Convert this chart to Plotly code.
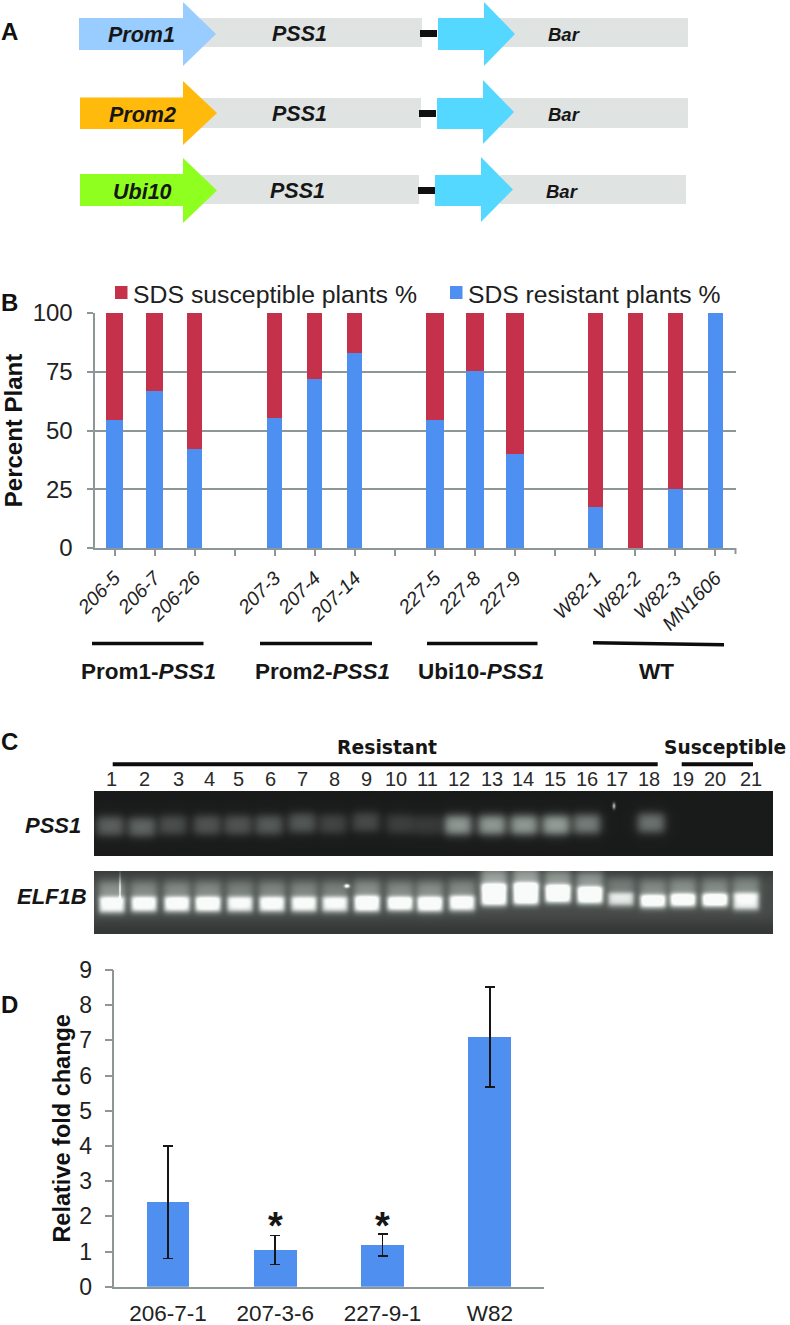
import numpy as np
import plotly.graph_objects as go

W, H = 790, 1325
FONT = "Liberation Sans"
INK = "#161616"
AXIS = "#8d9797"

# ---- Panel B data ----
plant_lines = ["206-5", "206-7", "206-26", "\u00a0", "207-3", "207-4", "207-14", "\u00a0\u00a0",
               "227-5", "227-8", "227-9", "\u00a0\u00a0\u00a0", "W82-1", "W82-2", "W82-3", "MN1606"]
resistant_pct = [54.5, 67, 42, None, 55.5, 72, 83, None, 54.5, 75.5, 40, None, 17.5, 0, 25, 100]
susceptible_pct = [45.5, 33, 58, None, 44.5, 28, 17, None, 45.5, 24.5, 60, None, 82.5, 100, 75, 0]
bar_widths_b = [.44, .44, .37, .4, .37, .37, .37, .4, .44, .44, .44, .4, .37, .37, .37, .37]

# ---- Panel D data ----
qpcr_lines = ["206-7-1", "207-3-6", "227-9-1", "W82"]
fold_change = [2.4, 1.05, 1.19, 7.1]
err_plus = [1.6, 0.4, 0.31, 1.42]
err_minus = [1.6, 0.42, 0.31, 1.42]
significant = ["207-3-6", "227-9-1"]
star_levels = [1.73, 1.73]

# ---- Panel C data (band brightness by lane) ----
lane_numbers = list(range(1, 22))
lane_label_x = [111, 144, 178, 209, 238, 270, 302, 334, 366, 396, 427, 459, 492, 523, 555, 587, 617, 649, 683, 715, 751]
pss1_lane_x = [110, 142, 173, 207, 238, 269, 302, 333, 366, 400, 427, 458, 492, 524, 556, 587, 620, 651, 683, 715, 747]
pss1_level = [.27, .29, .2, .22, .22, .25, .24, .16, .18, .14, .12, .5, .5, .5, .52, .38, 0, .34, 0, 0, 0]
pss1_center = [826, 827, 825, 825, 825, 825, 823, 824, 822, 824, 825, 825, 825, 825, 825, 824, 825, 823, 825, 825, 825]
elf_lane_x = [112, 144, 177, 208, 240, 272, 304, 335, 367, 400, 430, 462, 494, 526, 558, 590, 621, 653, 683, 715, 746]
elf_level = [.74, .78, .78, .82, .72, .76, .74, .72, .84, .84, .84, .8, .9, .92, .92, .9, .62, .86, .88, .92, .7]
elf_top = [897, 897, 897, 897, 897, 897, 897, 897, 896, 897, 897, 896, 884, 883, 885, 887, 893, 895, 894, 894, 893]
elf_bottom = [912, 911, 911, 911, 911, 911, 911, 911, 911, 910, 911, 910, 905, 904, 902, 903, 905, 907, 906, 906, 909]
elf_halo = [.3, .26, .26, .26, .22, .24, .24, .22, .28, .26, .28, .26, .4, .4, .34, .34, .2, .26, .28, .26, .26]

# ---- Panel A data ----
construct_names = ["Prom1", "Prom2", "Ubi10"]
construct_colors = ["#99ccff", "#ffba0b", "#8fff1f"]


def px(x, y):
    return x / W, 1 - y / H


def paper_path(points):
    parts = []
    for i, (x, y) in enumerate(points):
        fx, fy = px(x, y)
        parts.append(("M" if i == 0 else "L") + f"{fx:.5f},{fy:.5f}")
    return " ".join(parts) + " Z"


shapes, annots = [], []


def rect(x0, y0, x1, y1, color):
    a, b = px(x0, y0)
    c, d = px(x1, y1)
    shapes.append(dict(type="rect", xref="paper", yref="paper", x0=a, y0=b, x1=c, y1=d,
                       fillcolor=color, line_width=0, layer="above"))


def arrow(x0, xh, xt, top, bot, htop, hbot, color):
    mid = (htop + hbot) / 2
    shapes.append(dict(type="path", xref="paper", yref="paper", layer="above", fillcolor=color, line_width=0,
                       path=paper_path([(x0, top), (xh, top), (xh, htop), (xt, mid), (xh, hbot), (xh, bot), (x0, bot)])))


def line(x0, y0, x1, y1, width, color="#0c0c0c"):
    a, b = px(x0, y0)
    c, d = px(x1, y1)
    shapes.append(dict(type="line", xref="paper", yref="paper", x0=a, y0=b, x1=c, y1=d,
                       line=dict(color=color, width=width), layer="above"))


def text(x, y, s, size, family=FONT, color=INK, anchor="center", angle=0):
    a, b = px(x, y)
    annots.append(dict(xref="paper", yref="paper", x=a, y=b, text=s, showarrow=False, xanchor=anchor,
                       yanchor="middle", font=dict(family=family, size=size, color=color), textangle=angle,
                       borderpad=0, borderwidth=0))


rows = [
    dict(px0=79, pxh=183, pxt=216, st=18, sb=50, ht=2, hb=66, gr=422, gt=18, gb=47, lx0=420, lx1=437, ly0=30, ly1=37,
         bx0=438, bxh=484, bxt=515, bht=2, bhb=66, bst=18, bsb=50, end=688, tx=141, ty=35, px_t=299, bar_t=564),
    dict(px0=80, pxh=183, pxt=217, st=97.5, sb=129, ht=81, hb=145, gr=421, gt=98, gb=128, lx0=419, lx1=436, ly0=110, ly1=117,
         bx0=437, bxh=483, bxt=514, bht=80, bhb=144, bst=98, bsb=129, end=688, tx=142, ty=115, px_t=299, bar_t=564),
    dict(px0=80, pxh=183, pxt=217, st=174, sb=206, ht=158, hb=223, gr=419, gt=175, gb=204, lx0=418, lx1=435, ly0=187, ly1=194,
         bx0=435, bxh=481, bxt=513, bht=157, bhb=222, bst=175, bsb=206, end=686, tx=142, ty=192, px_t=297, bar_t=562),
]
for r, name, col in zip(rows, construct_names, construct_colors):
    rect(200, r["gt"], r["gr"], r["gb"], "#dfe3e2")
    rect(500, r["gt"], r["end"], r["gb"], "#dfe3e2")
    rect(r["lx0"], r["ly0"], r["lx1"], r["ly1"], "#101010")
    arrow(r["px0"], r["pxh"], r["pxt"], r["st"], r["sb"], r["ht"], r["hb"], col)
    arrow(r["bx0"], r["bxh"], r["bxt"], r["bst"], r["bsb"], r["bht"], r["bhb"], "#55d8ff")
    text(r["tx"], r["ty"], f"<b><i>{name}</i></b>", 21.5)
    text(r["px_t"], r["ty"] - 1, "<b><i>PSS1</i></b>", 21.5)
    text(r["bar_t"], r["ty"] - 0.5, "<b><i>Bar</i></b>", 18.5)

for letter, y in zip("ABCD", [32, 302, 741, 1004]):
    text(1, y, f"<b>{letter}</b>", 24, anchor="left", color="#111111")

rect(115, 286, 127.5, 299, "#c5304a")
rect(450, 286, 462.5, 299, "#4e8ff2")
text(133, 295, "SDS susceptible plants %", 24.8, anchor="left", color="#202020")
text(468, 295, "SDS resistant plants %", 24.7, anchor="left", color="#202020")
line(735.5, 548, 735.5, 554, 2, AXIS)
line(92, 643.5, 203.5, 643.5, 3.5)
line(260, 643.5, 372, 643.5, 3.5)
line(427, 643.5, 537.5, 643.5, 3.5)
line(593, 642.7, 724, 644.7, 3.5)
text(148, 671, "<b>Prom1-<i>PSS1</i></b>", 22.5)
text(322, 671, "<b>Prom2-<i>PSS1</i></b>", 22.5)
text(481, 671, "<b>Ubi10-<i>PSS1</i></b>", 22.5)
text(656.5, 671, "<b>WT</b>", 22.5)

line(112.7, 764.3, 657.7, 764.3, 4)
line(681.7, 764.3, 753, 764.3, 4)
text(387, 747, "<b>Resistant</b>", 18.8, family="DejaVu Sans")
text(725, 747, "<b>Susceptible</b>", 18.6, family="DejaVu Sans")
for n, x in zip(lane_numbers, lane_label_x):
    text(x, 779, str(n), 20, color="#2a2a2a")
text(53, 826, "<b><i>PSS1</i></b>", 22)
text(52, 896, "<b><i>ELF1B</i></b>", 22)

for cat, lvl in zip(significant, star_levels):
    annots.append(dict(xref="x2", yref="y2", x=cat, y=lvl, text="<b>*</b>", showarrow=False, yanchor="middle",
                       font=dict(family=FONT, size=38, color=INK)))


def soft(v, lo, hi, edge):
    return 1 / (1 + np.exp((lo - v) / edge)) * 1 / (1 + np.exp((v - hi) / edge))


def blob(X, Y, cx, cy, sx, sy, amp):
    return amp * np.exp(-((X - cx) / sx) ** 2 - ((Y - cy) / sy) ** 2)


gx = np.arange(94.5, 773, 1.0)
gy1 = np.arange(791.5, 856, 1.0)
gy2 = np.arange(871.5, 934, 1.0)
X1, Y1 = np.meshgrid(gx, gy1)
X2, Y2 = np.meshgrid(gx, gy2)

gel1 = np.full(X1.shape, 0.1)
for cx, cy, lv in zip(pss1_lane_x, pss1_center, pss1_level):
    gel1 += lv * soft(X1, cx - 13, cx + 13, 2.6) * soft(Y1, cy - 9, cy + 9, 2.6)
gel1 += blob(X1, Y1, 614, 806, 1.5, 3, .6)
gel1 = np.clip(gel1, 0, 1).round(3)

gel2 = np.full(X2.shape, 0.2)
gel2 += 0.08 * soft(Y2, 876, 922, 4)
for cx, lv, t, b, hl in zip(elf_lane_x, elf_level, elf_top, elf_bottom, elf_halo):
    gel2 += hl * soft(X2, cx - 13, cx + 13, 2.2) * soft(Y2, t - 15, t + 2, 3)
    gel2 += 0.1 * soft(X2, cx - 14, cx + 14, 2) * soft(Y2, b, b + 4, 1.5)
    gel2 += lv * soft(X2, cx - 12.5, cx + 12.5, 1.4) * soft(Y2, t, b, 1.4)
gel2 += blob(X2, Y2, 120, 888, 1, 13, .45)
gel2 += blob(X2, Y2, 347, 886, 2.5, 1.8, .8)
gel2 = np.clip(gel2, 0, 1).round(3)

GEL_SCALE = [[0, "#000000"], [0.5, "#7f8783"], [1, "#f8fbf9"]]

fig = go.Figure()
fig.add_trace(go.Bar(x=plant_lines, y=resistant_pct, name="SDS resistant plants %", marker_color="#4e8ff2",
                     marker_line_width=0, width=bar_widths_b, xaxis="x", yaxis="y", showlegend=False))
fig.add_trace(go.Bar(x=plant_lines, y=susceptible_pct, name="SDS susceptible plants %", marker_color="#c5304a",
                     marker_line_width=0, width=bar_widths_b, xaxis="x", yaxis="y", showlegend=False))
fig.add_trace(go.Bar(x=qpcr_lines, y=fold_change, marker_color="#4f8ff0", marker_line_width=0, width=0.4,
                     error_y=dict(type="data", symmetric=False, array=err_plus, arrayminus=err_minus,
                                  thickness=1.6, width=5, color="#161616"),
                     xaxis="x2", yaxis="y2", showlegend=False))
fig.add_trace(go.Heatmap(x=gx, y=gy1, z=gel1, colorscale=GEL_SCALE, zmin=0, zmax=1, showscale=False,
                         hoverinfo="skip", xaxis="x3", yaxis="y3"))
fig.add_trace(go.Heatmap(x=gx, y=gy2, z=gel2, colorscale=GEL_SCALE, zmin=0, zmax=1, showscale=False,
                         hoverinfo="skip", xaxis="x4", yaxis="y4"))


def hidden(domain, rng, anchor):
    return dict(domain=domain, range=rng, anchor=anchor, visible=False, fixedrange=True, automargin=False)


fig.update_layout(
    width=W, height=H, margin=dict(l=0, r=0, t=0, b=0, pad=0), autosize=False,
    paper_bgcolor="white", plot_bgcolor="rgba(0,0,0,0)", barmode="stack",
    font=dict(family=FONT, color=INK), showlegend=False,
    shapes=shapes, annotations=annots,
    xaxis=dict(domain=[94.5 / W, 735.5 / W], anchor="y", type="category", categoryorder="array", automargin=False,
               categoryarray=plant_lines, tickmode="array", tickvals=plant_lines, ticktext=plant_lines,
               showline=True, linecolor=AXIS, linewidth=2, ticks="outside", ticklen=6, tickwidth=1.5,
               tickcolor=AXIS, tickangle=-45, ticklabelstandoff=3, showgrid=False,
               tickfont=dict(family=FONT, size=19.5, style="italic", color="#222222")),
    yaxis=dict(domain=[1 - 548 / H, 1 - 313 / H], anchor="x", range=[0, 100], tick0=0, dtick=25, automargin=False,
               showline=True, linecolor=AXIS, linewidth=2, ticks="outside", ticklen=6, tickwidth=2,
               tickcolor=AXIS, showgrid=True, gridcolor=AXIS, gridwidth=2, zeroline=False,
               ticklabelstandoff=9,
               tickfont=dict(family=FONT, size=24, color="#222222"),
               title=dict(text="<b>Percent Plant</b>", standoff=30, font=dict(family=FONT, size=24, color="#111111"))),
    xaxis2=dict(domain=[114.3 / W, 543.6 / W], anchor="y2", type="category", range=[-0.5, 3.5], automargin=False,
                showline=True, linecolor=AXIS, linewidth=1.5, ticks="", showgrid=False, ticklabelstandoff=6,
                tickfont=dict(family=FONT, size=22.5, color="#222222")),
    yaxis2=dict(domain=[1 - 1286.7 / H, 1 - 970 / H], anchor="x2", range=[0, 9], tick0=0, dtick=1, automargin=False,
                showline=True, linecolor=AXIS, linewidth=1.5, ticks="outside", ticklen=8, tickwidth=1.5,
                tickcolor=AXIS, showgrid=False, zeroline=False, ticklabelstandoff=8,
                tickfont=dict(family=FONT, size=23, color="#222222"),
                title=dict(text="<b>Relative fold change</b>", standoff=2,
                           font=dict(family=FONT, size=23.5, color="#111111"))),
    xaxis3=hidden([94 / W, 773 / W], [94, 773], "y3"),
    yaxis3=hidden([1 - 856 / H, 1 - 791 / H], [856, 791], "x3"),
    xaxis4=hidden([94 / W, 773 / W], [94, 773], "y4"),
    yaxis4=hidden([1 - 934 / H, 1 - 871 / H], [934, 871], "x4"),
)

fig.write_html("out.html", config=dict(displayModeBar=False),
               post_script="document.body.style.margin='0';document.documentElement.style.overflow='hidden';")
